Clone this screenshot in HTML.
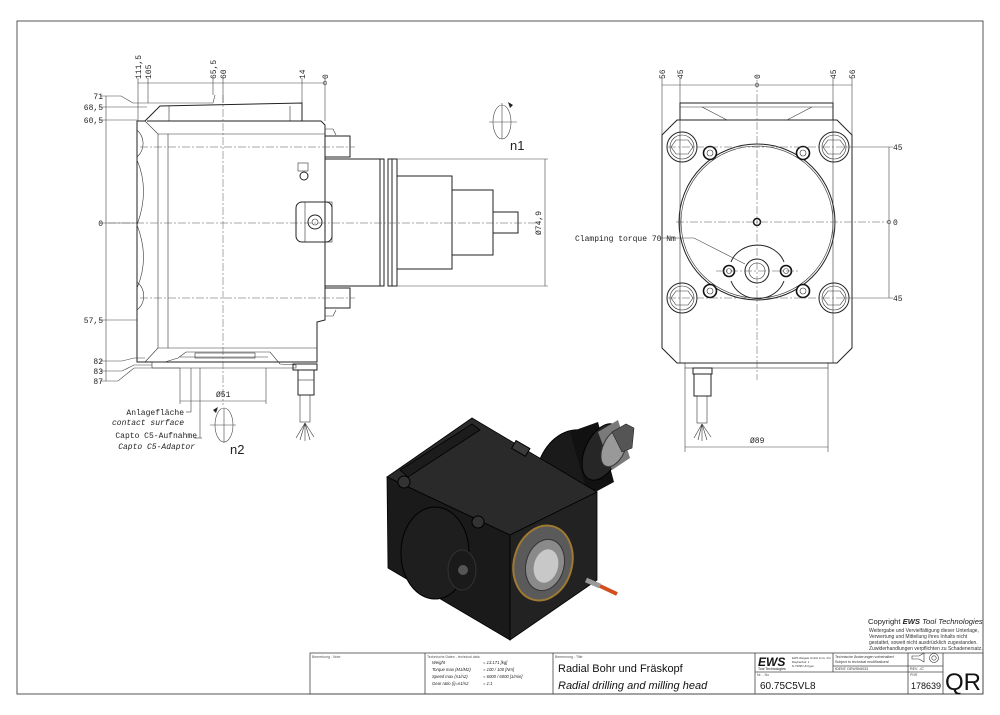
<!DOCTYPE html>
<html><head><meta charset="utf-8"><style>
html,body{margin:0;padding:0;background:#fff;}
svg{display:block;font-family:"Liberation Sans",sans-serif;}
.l{stroke:#222;stroke-width:1;fill:none}
.t{stroke:#333;stroke-width:0.6;fill:none}
.c{stroke:#555;stroke-width:0.5;fill:none;stroke-dasharray:8 2 2 2}
.d{stroke:#444;stroke-width:0.6;fill:none}
.m{font-family:"Liberation Mono",monospace;font-size:8px;fill:#222}
</style></head><body>
<svg width="1000" height="715" viewBox="0 0 1000 715">
<rect x="17" y="21" width="966" height="673" fill="none" stroke="#555" stroke-width="1"/>

<!-- ===== LEFT VIEW ===== -->
<line class="d" x1="138" y1="83" x2="325" y2="83"/>
<g class="d"><line x1="138" y1="78" x2="138" y2="121"/><line x1="148" y1="78" x2="148" y2="103"/><line x1="213" y1="78" x2="213" y2="95"/><line x1="223" y1="78" x2="223" y2="103"/><line x1="302" y1="78" x2="302" y2="103"/><line x1="325" y1="78" x2="325" y2="121"/></g>
<circle cx="325" cy="83" r="1.8" class="d"/>
<g class="m" font-size="8">
<text transform="translate(141,79) rotate(-90)">111,5</text>
<text transform="translate(151,79) rotate(-90)">105</text>
<text transform="translate(216,79) rotate(-90)">65,5</text>
<text transform="translate(226,79) rotate(-90)">60</text>
<text transform="translate(305,79) rotate(-90)">14</text>
<text transform="translate(328,79) rotate(-90)">0</text>
</g>
<line class="d" x1="106" y1="96" x2="106" y2="381"/>
<g class="d">
<polyline points="100,96 121,96 133,103 213,103 215,95"/>
<line x1="100" y1="107" x2="147" y2="107"/>
<line x1="100" y1="120" x2="137" y2="120"/>
<line x1="100" y1="223" x2="137" y2="223"/>
<line x1="100" y1="320" x2="137" y2="320"/>
<polyline points="100,361 122,361 134,358 145,358"/>
<polyline points="100,371 122,371 134,365 152,365"/>
<polyline points="100,381 118,381 134,368 180,368"/>
</g>
<g class="m" text-anchor="end">
<text x="103" y="99">71</text><text x="103" y="110">68,5</text><text x="103" y="123">60,5</text>
<text x="103" y="226">0</text><text x="103" y="323">57,5</text>
<text x="103" y="364">82</text><text x="103" y="374">83</text><text x="103" y="384">87</text>
</g>
<polygon class="l" points="137,121 145,121 160,106 302,103 302,121 321,121 325,125 325,320 317,322 317,362 137,362"/>
<line class="l" x1="147" y1="121" x2="321" y2="121"/>
<line class="t" x1="169" y1="106" x2="169" y2="121"/>
<line class="t" x1="290" y1="106" x2="290" y2="121"/>
<polyline class="t" points="145,121 158,134 158,348 145,362"/>
<polyline class="t" points="158,134 168,134 168,348 158,348"/>
<line class="t" x1="168" y1="134" x2="325" y2="134"/>
<line class="t" x1="168" y1="348" x2="317" y2="348"/>
<path class="t" d="M137,130 A18,18 0 0 1 137,157 M137,160 Q150,190 137,225 Q150,258 137,288 M137,282 A18,18 0 0 1 137,310"/>
<polygon class="t" points="152,362 152,368 296,368 296,365 280,364 270,352 186,352 178,358 165,362"/>
<line class="t" x1="180" y1="357" x2="268" y2="357"/>
<rect class="t" x="195" y="353" width="60" height="5"/>
<rect class="l" x="325" y="136" width="25" height="21"/>
<rect class="l" x="325" y="288" width="25" height="20"/>
<polyline class="t" points="325,129 333,129 336,135"/><polyline class="t" points="325,316 333,316 336,310"/>
<rect class="l" x="325" y="159" width="55" height="127"/>
<rect class="l" x="380" y="159" width="4" height="127"/><rect class="l" x="388" y="159" width="4" height="127"/>
<rect class="l" x="392" y="159" width="5" height="127"/>
<rect class="l" x="397" y="176" width="55" height="93"/>
<rect class="l" x="452" y="190" width="41" height="65"/>
<rect class="l" x="493" y="212" width="25" height="21"/>
<rect class="l" x="296" y="202" width="36" height="40" rx="6"/>
<rect class="t" x="305" y="202" width="27" height="40"/>
<circle class="l" cx="315" cy="222" r="7"/><circle class="t" cx="315" cy="222" r="3"/>
<rect class="t" x="298" y="163" width="10" height="8"/>
<circle class="l" cx="304" cy="176" r="4"/>
<line class="c" x1="223" y1="95" x2="223" y2="405"/>
<line class="c" x1="108" y1="223" x2="540" y2="223"/>
<line class="c" x1="140" y1="147" x2="355" y2="147"/>
<line class="c" x1="140" y1="298" x2="355" y2="298"/>
<g class="d"><line x1="397" y1="159" x2="548" y2="159"/><line x1="397" y1="286" x2="548" y2="286"/><line x1="545" y1="159" x2="545" y2="286"/></g>
<text class="m" transform="translate(541,235) rotate(-90)">Ø74,9</text>
<g class="d"><line x1="180" y1="368" x2="180" y2="404"/><line x1="266" y1="368" x2="266" y2="404"/><line x1="180" y1="401" x2="266" y2="401"/>
<line x1="200" y1="368" x2="200" y2="438"/><line x1="202" y1="438" x2="194" y2="438"/><line x1="191" y1="368" x2="191" y2="412"/><line x1="191" y1="412" x2="186" y2="412"/></g>
<text class="m" x="216" y="397">Ø51</text>
<g class="m" text-anchor="end" font-size="8.5">
<text x="184" y="415">Anlagefläche</text><text x="184" y="425" font-style="italic">contact surface</text>
<text x="197" y="438">Capto C5-Aufnahme</text><text x="195" y="449" font-style="italic">Capto C5-Adaptor</text>
</g>
<rect class="l" x="293" y="364" width="24" height="6"/>
<rect class="l" x="298" y="370" width="16" height="25"/>
<line class="t" x1="298" y1="380" x2="314" y2="380"/>
<rect class="t" x="300" y="395" width="10" height="27"/>
<g class="t"><line x1="305" y1="423" x2="296" y2="438"/><line x1="305" y1="423" x2="300" y2="440"/><line x1="305" y1="423" x2="305" y2="441"/><line x1="305" y1="423" x2="310" y2="440"/><line x1="305" y1="423" x2="314" y2="437"/></g>
<g class="d"><ellipse cx="502" cy="122" rx="9" ry="17"/><line x1="489" y1="122" x2="517" y2="122"/><line x1="502" y1="103" x2="502" y2="139"/></g>
<path d="M510,108 l-2,-6 l5,3z" fill="#222"/>
<text x="510" y="150" font-size="13" fill="#222">n1</text>
<g class="d"><ellipse cx="224" cy="425" rx="9" ry="17"/><line x1="210" y1="425" x2="236" y2="425"/><line x1="224" y1="408" x2="224" y2="443"/></g>
<path d="M216,413 l2,-6 l-5,3z" fill="#222"/>
<text x="230" y="454" font-size="13" fill="#222">n2</text>

<!-- ===== RIGHT VIEW ===== -->
<line class="d" x1="662" y1="85" x2="852" y2="85"/>
<g class="d"><line x1="662" y1="78" x2="662" y2="150"/><line x1="680" y1="78" x2="680" y2="103"/><line x1="833" y1="78" x2="833" y2="103"/><line x1="852" y1="78" x2="852" y2="150"/></g>
<circle cx="757" cy="85" r="1.8" class="d"/>
<g class="m">
<text transform="translate(665,79) rotate(-90)">56</text><text transform="translate(683,79) rotate(-90)">45</text>
<text transform="translate(760,79) rotate(-90)">0</text><text transform="translate(836,79) rotate(-90)">45</text>
<text transform="translate(855,79) rotate(-90)">56</text>
</g>
<polygon class="l" points="677,120 837,120 852,135 852,348 837,363 677,363 662,348 662,135"/>
<rect class="l" x="680" y="103" width="153" height="17"/>
<line class="t" x1="680" y1="107" x2="833" y2="107"/>
<polyline class="t" points="702,107 727,120 787,120 812,107"/>
<line class="t" x1="680" y1="120" x2="680" y2="363"/><line class="t" x1="833" y1="120" x2="833" y2="363"/>
<circle class="l" cx="757" cy="222" r="78"/><circle class="t" cx="757" cy="222" r="76"/>
<g class="l">
<circle cx="682" cy="147" r="15"/><circle cx="834" cy="147" r="15"/><circle cx="682" cy="298" r="15"/><circle cx="834" cy="298" r="15"/>
</g>
<g class="t">
<circle cx="682" cy="147" r="12"/><circle cx="834" cy="147" r="12"/><circle cx="682" cy="298" r="12"/><circle cx="834" cy="298" r="12"/>
<polygon points="676,140 688,140 693,147 688,154 676,154 671,147"/><polygon points="828,140 840,140 845,147 840,154 828,154 823,147"/>
<polygon points="676,291 688,291 693,298 688,305 676,305 671,298"/><polygon points="828,291 840,291 845,298 840,305 828,305 823,298"/>
</g>
<g stroke="#111" stroke-width="1.6" fill="#fff">
<circle cx="710" cy="153" r="6.5"/><circle cx="803" cy="153" r="6.5"/><circle cx="710" cy="291" r="6.5"/><circle cx="803" cy="291" r="6.5"/>
<circle cx="729" cy="271" r="5.5"/><circle cx="786" cy="271" r="5.5"/>
</g>
<g class="t"><circle cx="710" cy="153" r="3"/><circle cx="803" cy="153" r="3"/><circle cx="710" cy="291" r="3"/><circle cx="803" cy="291" r="3"/><circle cx="729" cy="271" r="2.5"/><circle cx="786" cy="271" r="2.5"/></g>
<path class="l" d="M731,262 A28,25 0 0 1 784,262 M784,281 A28,26 0 0 1 731,281"/>
<circle class="l" cx="757" cy="271" r="12"/><circle class="t" cx="757" cy="271" r="8"/>
<circle cx="757" cy="222" r="3.5" fill="#fff" stroke="#111" stroke-width="1.5"/>
<line class="c" x1="757" y1="80" x2="757" y2="380"/>
<line class="c" x1="676" y1="222" x2="888" y2="222"/>
<line class="c" x1="668" y1="147" x2="850" y2="147"/><line class="c" x1="668" y1="298" x2="850" y2="298"/>
<line class="c" x1="716" y1="271" x2="798" y2="271"/>
<g class="d"><line x1="849" y1="147" x2="893" y2="147"/><line x1="849" y1="298" x2="893" y2="298"/><line x1="889" y1="147" x2="889" y2="298"/></g>
<circle cx="889" cy="222" r="1.8" class="d"/>
<g class="m"><text x="893" y="150">45</text><text x="893" y="225">0</text><text x="893" y="301">45</text></g>
<text class="m" x="575" y="241">Clamping torque 70 Nm</text>
<polyline class="d" points="660,238 694,238 745,264"/>
<rect class="t" x="685" y="363" width="143" height="5"/>
<rect class="l" x="693" y="368" width="19" height="6"/><rect class="l" x="694" y="374" width="17" height="22"/>
<rect class="t" x="697" y="396" width="10" height="27"/>
<g class="t"><line x1="702" y1="424" x2="694" y2="438"/><line x1="702" y1="424" x2="698" y2="440"/><line x1="702" y1="424" x2="702" y2="441"/><line x1="702" y1="424" x2="707" y2="440"/><line x1="702" y1="424" x2="711" y2="437"/></g>
<g class="d"><line x1="685" y1="368" x2="685" y2="452"/><line x1="828" y1="368" x2="828" y2="452"/><line x1="685" y1="447" x2="828" y2="447"/></g>
<text class="m" x="750" y="443">Ø89</text>

<!-- ===== 3D ===== -->
<!-- spindle -->
<ellipse cx="568" cy="470" rx="30" ry="42" fill="#1a1a1a" stroke="#000" transform="rotate(25 568 470)"/>
<polygon points="570,432 598,422 614,482 588,496" fill="#111"/>
<ellipse cx="602" cy="452" rx="17" ry="30" fill="#262626" stroke="#000" transform="rotate(25 602 452)"/>
<polygon points="598,432 618,420 630,458 612,470" fill="#7a7a7a"/>
<ellipse cx="614" cy="448" rx="11" ry="20" fill="#999" stroke="#333" transform="rotate(25 614 448)"/>
<polygon points="612,432 626,424 634,428 632,448 622,452" fill="#555" stroke="#222" stroke-width="0.6"/>
<g stroke="#000" stroke-width="0.8">
<polygon points="387,477 472,418 597,492 510,535" fill="#2a2a2a"/>
<polygon points="400,470 472,424 480,430 408,477" fill="#1c1c1c"/>
<polygon points="387,477 510,535 510,640 388,568" fill="#1a1a1a"/>
<polygon points="510,535 597,492 597,580 510,640" fill="#222"/>
</g>
<ellipse cx="435" cy="553" rx="34" ry="46" fill="#1e1e1e" stroke="#000"/>
<ellipse cx="462" cy="570" rx="14" ry="20" fill="#1a1a1a" stroke="#333"/>
<circle cx="463" cy="570" r="5" fill="#555"/>
<circle cx="404" cy="482" r="6" fill="#333" stroke="#000"/><circle cx="478" cy="522" r="6" fill="#333" stroke="#000"/>
<rect x="513" y="444" width="16" height="9" fill="#3a3a3a" stroke="#000" transform="rotate(30 521 448)"/>
<ellipse cx="543" cy="563" rx="29" ry="38" fill="#5a5a5a" stroke="#a07a30" stroke-width="2" transform="rotate(15 543 563)"/>
<ellipse cx="545" cy="565" rx="19" ry="26" fill="#8a8a8a" stroke="#333" transform="rotate(15 545 565)"/>
<ellipse cx="546" cy="566" rx="12" ry="17" fill="#c8c8c8" transform="rotate(15 546 566)"/>
<line x1="586" y1="580" x2="600" y2="586" stroke="#999" stroke-width="5"/>
<line x1="600" y1="586" x2="617" y2="594" stroke="#d05020" stroke-width="4"/>

<!-- ===== Copyright ===== -->
<text x="868" y="624" font-size="7.6" fill="#222">Copyright <tspan font-weight="bold" font-style="italic">EWS</tspan> <tspan font-style="italic">Tool Technologies</tspan></text>
<g font-size="5" fill="#333">
<text x="869" y="632">Weitergabe und Vervielfältigung dieser Unterlage,</text>
<text x="869" y="638">Verwertung und Mitteilung ihres Inhalts nicht</text>
<text x="869" y="644">gestattet, soweit nicht ausdrücklich zugestanden.</text>
<text x="869" y="650">Zuwiderhandlungen verpflichten zu Schadenersatz.</text>
</g>

<!-- ===== Title block ===== -->
<g stroke="#444" stroke-width="0.8" fill="none">
<rect x="310" y="653" width="673" height="41"/>
<line x1="425" y1="653" x2="425" y2="694"/><line x1="553" y1="653" x2="553" y2="694"/>
<line x1="755" y1="653" x2="755" y2="694"/><line x1="833" y1="653" x2="833" y2="672"/>
<line x1="908" y1="653" x2="908" y2="694"/><line x1="943" y1="653" x2="943" y2="694"/>
<line x1="755" y1="672" x2="943" y2="672"/><line x1="833" y1="666" x2="943" y2="666"/>
</g>
<g font-size="3.5" fill="#555"><text x="312" y="658">Bemerkung - Note</text><text x="427" y="658">Technische Daten - technical data</text><text x="555" y="658">Benennung - Title</text><text x="757" y="676">Nr. - No</text><text x="910" y="676">PNR</text></g>
<g font-size="4.2" fill="#222" font-style="italic">
<text x="432" y="664">Weight</text><text x="483" y="664">=  13.171 [kg]</text>
<text x="432" y="671">Torque max  (M1/M2)</text><text x="483" y="671">=  100 / 100 [Nm]</text>
<text x="432" y="678">Speed max  (n1/n2)</text><text x="483" y="678">=  6000 / 6000 [1/min]</text>
<text x="432" y="685">Gear ratio  (i)=n1/n2</text><text x="483" y="685">=  1:1</text></g>
<text x="558" y="672" font-size="11" fill="#111">Radial Bohr und Fräskopf</text>
<text x="558" y="689" font-size="11" font-style="italic" fill="#111">Radial drilling and milling head</text>
<text x="758" y="666" font-size="12" font-weight="bold" font-style="italic" fill="#111">EWS</text>
<text x="758" y="670" font-size="3.5" fill="#111">Tool Technologies</text>
<g font-size="2.8" fill="#333"><text x="792" y="659">EWS Weigele GmbH &amp; Co. KG</text><text x="792" y="663">Maybachstr. 1</text><text x="792" y="667">D-73095 Uhingen</text></g>
<g font-size="3.6" fill="#333"><text x="835" y="658">Technische Änderungen vorbehalten!</text><text x="835" y="663">Subject to technical modifications!</text><text x="835" y="670">IDENT: DEWSh5033</text><text x="910" y="670">REV.  -/C</text></g>
<path d="M912,656 h7 l5,-3 v9 l-5,-3 h-7z" fill="none" stroke="#333" stroke-width="0.6"/>
<circle cx="934" cy="658" r="4.5" fill="none" stroke="#333" stroke-width="0.6"/><circle cx="934" cy="658" r="2.2" fill="none" stroke="#333" stroke-width="0.6"/>
<text x="760" y="689" font-size="10" fill="#111">60.75C5VL8</text>
<text x="941" y="689" font-size="9" fill="#111" text-anchor="end">178639</text>
<text x="963" y="690" font-size="24" fill="#111" text-anchor="middle">QR</text>
</svg>
</body></html>
